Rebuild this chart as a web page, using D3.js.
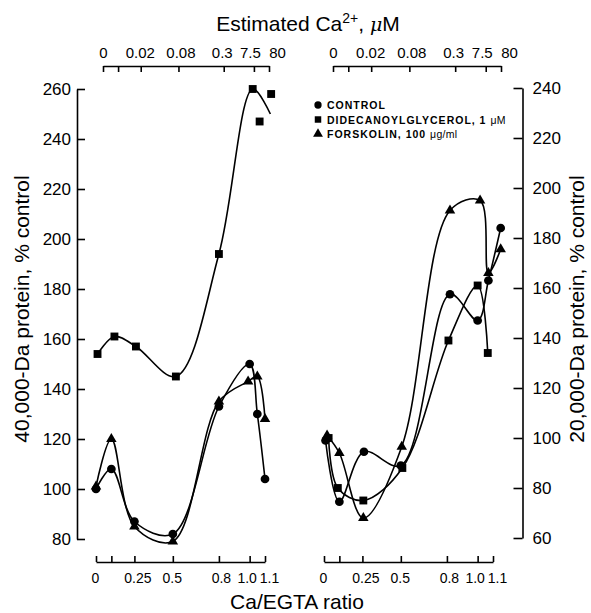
<!DOCTYPE html>
<html>
<head>
<meta charset="utf-8">
<script src="https://cdn.jsdelivr.net/npm/d3@7"></script>
<style>
body { margin: 0; background: white; }
text { font-family: "Liberation Sans", Arial, sans-serif; fill: black; }
</style>
</head>
<body>
<script type="text/javascript">
var w = 591;
var h = 613;

// tick values / labels
var ratioTicks = [0, 0.1, 0.25, 0.5, 0.8, 1.0, 1.1];
var ratioLabels = ["0", "", "0.25", "0.5", "0.8", "1.0", "1.1"];
var caLabels = ["0", "", "0.02", "0.08", "0.3", "7.5", "80"];
var leftTicks = [80, 100, 120, 140, 160, 180, 200, 220, 240, 260];
var rightTicks = [60, 80, 100, 120, 140, 160, 180, 200, 220, 240];

// 40,000-Da protein (left panel)
var ctlLeftX = [0, 0.1, 0.25, 0.5, 0.8, 1.0, 1.05, 1.1];
var ctlLeftY = [100, 108, 87, 82, 133, 150, 130, 104];
var forLeftX = [0, 0.1, 0.25, 0.5, 0.8, 0.99, 1.05, 1.1];
var forLeftY = [101, 120, 85, 79, 135, 143, 145, 128];
var dgLeftX = [0.01, 0.12, 0.26, 0.52, 0.8, 1.02, 1.065, 1.14];
var dgLeftY = [154, 161, 157, 145, 194, 260, 247, 258];
var dgLeftTail = [1.135, 250];   // where the drawn curve stops

// 20,000-Da protein (right panel)
var ctlRightX = [0.01, 0.1, 0.26, 0.5, 0.82, 1.0, 1.07, 1.15];
var ctlRightY = [99, 74.5, 94.5, 89, 157.5, 147, 163, 184];
var forRightX = [0.02, 0.1, 0.256, 0.506, 0.82, 1.016, 1.07, 1.15];
var forRightY = [101, 94, 68, 96.5, 191, 195, 166, 175.5];
var dgRightX = [0.03, 0.09, 0.256, 0.51, 0.81, 1.0, 1.066];
var dgRightY = [100, 80, 75, 88, 139, 161, 134];

// legend
var legendNames = ["CONTROL", "DIDECANOYLGLYCEROL, 1 ", "FORSKOLIN, 100 "];
var legendUnits = ["", "\u03bcM", "\u03bcg/ml"];
var legendShapes = ["circle", "square", "triangle"];

// small label nudges to mimic the original lettering
var topNudge = [0, 0, -1, 2, -2, -4, 8];
var botNudge = [-1, 0, 3, -1, 2, -3, 4];

var xL = d3.scaleLinear().domain([0, 1.1]).range([96, 265]);
var xLtop = d3.scaleLinear().domain([0, 1.1]).range([103, 269]);
var xR = d3.scaleLinear().domain([0, 1.1]).range([324, 493]);
var xRtop = d3.scaleLinear().domain([0, 1.1]).range([333, 501]);
var yL = d3.scaleLinear().domain([80, 260]).range([539, 89]);
var yR = d3.scaleLinear().domain([60, 240]).range([538, 88]);

const svg = d3.select("body").append("svg").attr("width", w).attr("height", h).style("background-color", "white");

function styleAxis(g, fs) {
  g.select(".domain").attr("stroke", "black").attr("stroke-width", 1.6);
  g.selectAll(".tick line").attr("stroke", "black").attr("stroke-width", 1.6);
  g.selectAll(".tick text").attr("font-size", fs).attr("fill", "black")
    .attr("font-family", "Liberation Sans, Arial, sans-serif");
}

//BOTTOM AXES
[xL, xR].forEach(function (sc) {
  var g = svg.append("g").attr("transform", "translate(0,562)")
    .call(d3.axisBottom(sc).tickValues(ratioTicks).tickFormat(function (d, i) { return ratioLabels[i]; })
      .tickSizeInner(-6).tickSizeOuter(0).tickPadding(11));
  styleAxis(g, 14);
  g.selectAll(".tick text").attr("dx", function (d, i) { return botNudge[i]; });
});

//TOP AXES
[xLtop, xRtop].forEach(function (sc) {
  var g = svg.append("g").attr("transform", "translate(0,66)")
    .call(d3.axisTop(sc).tickValues(ratioTicks).tickFormat(function (d, i) { return caLabels[i]; })
      .tickSizeInner(-6).tickSizeOuter(0).tickPadding(8));
  styleAxis(g, 15);
  g.selectAll(".tick text").attr("dx", function (d, i) { return topNudge[i]; });
});

//Y AXES
var gl = svg.append("g").attr("transform", "translate(77,0)")
  .call(d3.axisLeft(yL).tickValues(leftTicks).tickSizeInner(-8).tickSizeOuter(0).tickPadding(6));
styleAxis(gl, 17);
var gr = svg.append("g").attr("transform", "translate(522.5,0)")
  .call(d3.axisRight(yR).tickValues(rightTicks).tickSizeInner(-9).tickSizeOuter(0).tickPadding(10));
styleAxis(gr, 17);

//TITLES
var t = svg.append("text").attr("x", 308).attr("y", 31).attr("text-anchor", "middle").attr("font-size", 21);
t.append("tspan").text("Estimated Ca");
t.append("tspan").attr("font-size", 14).attr("dy", -8).text("2+");
t.append("tspan").attr("dy", 8).text(", ");
t.append("tspan").attr("font-style", "italic").attr("font-family", "DejaVu Serif, serif").attr("font-size", 19).text("\u03bc");
t.append("tspan").text("M");

svg.append("text").attr("x", 297).attr("y", 609).attr("text-anchor", "middle").attr("font-size", 21).text("Ca/EGTA ratio");

svg.append("text").attr("transform", "translate(29,309) rotate(-90)").attr("text-anchor", "middle")
  .attr("font-size", 21).text("40,000-Da protein, % control");
svg.append("text").attr("transform", "translate(584,309) rotate(-90)").attr("text-anchor", "middle")
  .attr("font-size", 21).text("20,000-Da protein, % control");

//MARKERS + CURVES
var sym = {
  circle: d3.symbol().type(d3.symbolCircle).size(60),
  square: d3.symbol().type(d3.symbolSquare).size(62),
  triangle: d3.symbol().type(d3.symbolTriangle).size(48)
};

function drawSeries(xs, ys, xsc, ysc, shape, tail) {
  var pts = xs.map(function (x, i) { return [x, ys[i]]; });
  var knots = tail ? pts.filter(function (p, i) { return i <= 5; }).concat([tail]) : pts;
  var line = d3.line().x(function (d) { return xsc(d[0]); }).y(function (d) { return ysc(d[1]); })
    .curve(d3.curveCatmullRom.alpha(0.5));
  svg.append("path").attr("d", line(knots)).attr("fill", "none").attr("stroke", "black").attr("stroke-width", 1.6);
  svg.append("g").selectAll("path").data(pts).enter().append("path")
    .attr("d", sym[shape]())
    .attr("transform", function (d) { return "translate(" + xsc(d[0]) + "," + ysc(d[1]) + ")"; })
    .attr("fill", "black");
}

drawSeries(dgLeftX, dgLeftY, xL, yL, "square", dgLeftTail);
drawSeries(ctlLeftX, ctlLeftY, xL, yL, "circle");
drawSeries(forLeftX, forLeftY, xL, yL, "triangle");
drawSeries(dgRightX, dgRightY, xR, yR, "square");
drawSeries(ctlRightX, ctlRightY, xR, yR, "circle");
drawSeries(forRightX, forRightY, xR, yR, "triangle");

//LEGEND
var leg = svg.append("g").attr("transform", "translate(318,105)");
legendNames.forEach(function (name, i) {
  var row = leg.append("g").attr("transform", "translate(0," + (i * 14.5) + ")");
  var s = d3.symbol().type(legendShapes[i] == "circle" ? d3.symbolCircle : legendShapes[i] == "square" ? d3.symbolSquare : d3.symbolTriangle).size(42);
  row.append("path").attr("d", s()).attr("fill", "black");
  var tx = row.append("text").attr("x", 9).attr("y", 4).attr("font-size", 10.5).attr("font-weight", "bold")
    .attr("letter-spacing", 1.0);
  tx.append("tspan").text(name);
  tx.append("tspan").attr("font-weight", "normal").attr("letter-spacing", 0.3).text(legendUnits[i]);
});
</script>
</body>
</html>
